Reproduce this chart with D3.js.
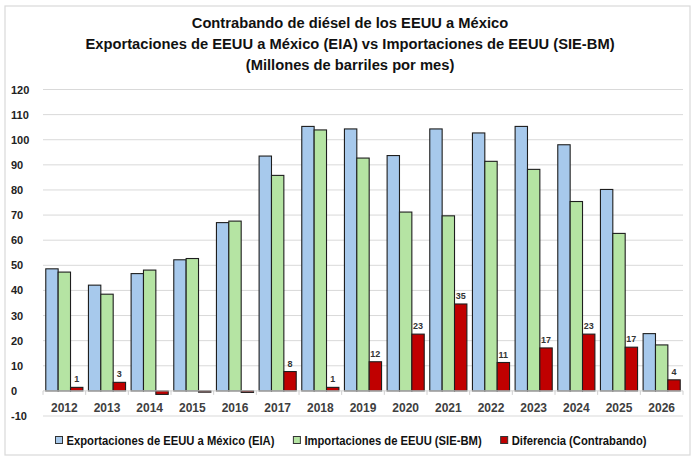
<!DOCTYPE html>
<html>
<head>
<meta charset="utf-8">
<script src="https://cdn.jsdelivr.net/npm/d3@7.9.0/dist/d3.min.js"></script>
<style>
  body { margin: 0; background: #fff; }
  svg { display: block; }
</style>
</head>
<body>
<svg id="chart" width="700" height="462"></svg>
<script>
// data
const years = ["2012", "2013", "2014", "2015", "2016", "2017", "2018", "2019",
  "2020", "2021", "2022", "2023", "2024", "2025", "2026"];
const exportaciones = [48.6, 42.1, 46.7, 52.2, 67.0, 93.5, 105.3, 104.3, 93.7, 104.3, 102.7, 105.3, 98.0, 80.2, 22.8];
const importaciones = [47.3, 38.5, 48.1, 52.7, 67.6, 85.8, 103.9, 92.7, 71.2, 69.7, 91.4, 88.2, 75.4, 62.7, 18.3];
const diferencia = [1.4, 3.4, -1.4, -0.5, -0.6, 7.7, 1.4, 11.6, 22.6, 34.6, 11.3, 17.1, 22.6, 17.4, 4.4];
const yTicks = [-10, 0, 10, 20, 30, 40, 50, 60, 70, 80, 90, 100, 110, 120];

const titleLines = [
  "Contrabando de diésel de los EEUU a México",
  "Exportaciones de EEUU a México (EIA) vs Importaciones de EEUU (SIE-BM)",
  "(Millones de barriles por mes)"
];

const series = [
  { key: "exp", name: "Exportaciones de EEUU a México (EIA)", values: exportaciones, color: "#a7c9ec" },
  { key: "imp", name: "Importaciones de EEUU (SIE-BM)", values: importaciones, color: "#b5e4a3" },
  { key: "dif", name: "Diferencia (Contrabando)", values: diferencia, color: "#c00000" }
];

const narrow = "'Liberation Sans Narrow', 'Arial Narrow', 'Liberation Sans', sans-serif";
const svg = d3.select("#chart");

// outer frame
svg.append("rect")
  .attr("x", 5).attr("y", 6).attr("width", 685).attr("height", 449)
  .attr("fill", "#fff").attr("stroke", "#d9d9d9").attr("stroke-width", 1.2);

// title (squeezed a little, the original font is a narrow one)
svg.append("g")
  .attr("transform", "translate(350,0) scale(0.95,1)")
  .selectAll("text")
  .data(titleLines)
  .join("text")
  .attr("x", 0)
  .attr("y", (d, i) => 28 + i * 21)
  .attr("text-anchor", "middle")
  .attr("font-family", narrow)
  .attr("font-weight", "bold")
  .attr("font-size", 15.5)
  .attr("fill", "#111")
  .text(d => d);

// scales
const margin = { left: 43, right: 683, top: 89.5, bottom: 416 };
const y = d3.scaleLinear().domain([-10, 120]).range([margin.bottom, margin.top]);
const x0 = d3.scaleBand().domain(years).range([margin.left, margin.right]).paddingInner(0.13).paddingOuter(0.065);
const x1 = d3.scaleBand().domain(series.map(s => s.key)).range([0, x0.bandwidth()]);
const xCat = d3.scaleBand().domain(years).range([margin.left, margin.right]);

// gridlines
svg.append("g")
  .selectAll("line")
  .data(yTicks.filter(t => t !== 0))
  .join("line")
  .attr("x1", margin.left).attr("x2", margin.right)
  .attr("y1", d => y(d)).attr("y2", d => y(d))
  .attr("stroke", "#d9d9d9").attr("stroke-width", 1);

// y labels
svg.append("g")
  .selectAll("text")
  .data(yTicks)
  .join("text")
  .attr("x", 11)
  .attr("y", d => y(d) + 4)
  .attr("font-family", "'Liberation Sans', Arial, sans-serif")
  .attr("font-weight", "bold")
  .attr("font-size", 11)
  .attr("fill", "#222")
  .text(d => d);

// bars
const groups = svg.append("g")
  .selectAll("g")
  .data(years)
  .join("g")
  .attr("transform", d => `translate(${x0(d)},0)`);

groups.selectAll("rect")
  .data((d, i) => series.map(s => ({ key: s.key, color: s.color, v: s.values[i] })))
  .join("rect")
  .attr("x", d => x1(d.key))
  .attr("width", x1.bandwidth())
  .attr("y", d => y(Math.max(0, d.v)))
  .attr("height", d => Math.abs(y(d.v) - y(0)))
  .attr("fill", d => d.color)
  .attr("stroke", "#1e1e1e")
  .attr("stroke-width", 1.1);

// difference labels (positive only)
const fmt = d3.format(".0f");
svg.append("g")
  .selectAll("text")
  .data(years.map((yr, i) => ({ yr, v: diferencia[i] })).filter(d => d.v > 0))
  .join("text")
  .attr("x", d => x0(d.yr) + x1("dif") + x1.bandwidth() / 2)
  .attr("y", d => y(d.v) - 5)
  .attr("text-anchor", "middle")
  .attr("font-family", "'Liberation Sans', Arial, sans-serif")
  .attr("font-weight", "bold")
  .attr("font-size", 9)
  .attr("fill", "#333")
  .text(d => fmt(d.v));

// zero axis and category ticks
svg.append("line")
  .attr("x1", margin.left).attr("x2", margin.right)
  .attr("y1", y(0)).attr("y2", y(0))
  .attr("stroke", "#d0d0d0").attr("stroke-width", 1);

svg.append("g")
  .selectAll("line")
  .data(years.map(d => xCat(d)).concat([margin.right]))
  .join("line")
  .attr("x1", d => d).attr("x2", d => d)
  .attr("y1", y(0)).attr("y2", y(0) + 4)
  .attr("stroke", "#d0d0d0");

// year labels
svg.append("g")
  .selectAll("text")
  .data(years)
  .join("text")
  .attr("x", d => xCat(d) + xCat.bandwidth() / 2)
  .attr("y", 412)
  .attr("text-anchor", "middle")
  .attr("font-family", "'Liberation Sans', Arial, sans-serif")
  .attr("font-weight", "bold")
  .attr("font-size", 12)
  .attr("fill", "#404040")
  .text(d => d);

// legend
const squeeze = 0.9;
const legend = svg.append("g");
const items = legend.selectAll("g")
  .data(series)
  .join("g");
items.append("rect")
  .attr("width", 7).attr("height", 7)
  .attr("y", -3.5)
  .attr("fill", d => d.color)
  .attr("stroke", "#333").attr("stroke-width", 1);
items.append("text")
  .attr("transform", `translate(11,4.5) scale(${squeeze},1)`)
  .attr("font-family", narrow)
  .attr("font-weight", "bold")
  .attr("font-size", 12.5)
  .attr("fill", "#111")
  .text(d => d.name);

const widths = [];
items.each(function () {
  widths.push(11 + squeeze * this.querySelector("text").getComputedTextLength());
});
const gap = 19;
const total = d3.sum(widths) + gap * (widths.length - 1);
let cx = 351 - total / 2;
items.attr("transform", (d, i) => {
  const tx = cx;
  cx += widths[i] + gap;
  return `translate(${tx},440)`;
});
</script>
</body>
</html>
